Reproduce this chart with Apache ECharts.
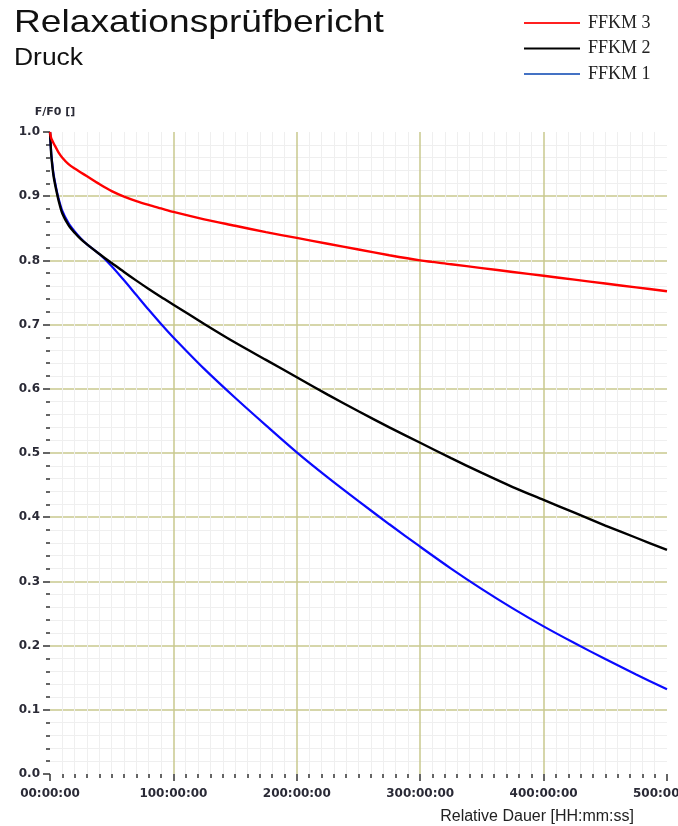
<!DOCTYPE html>
<html>
<head>
<meta charset="utf-8">
<script src="https://cdn.jsdelivr.net/npm/echarts@6/dist/echarts.min.js"></script>
<style>
html,body{margin:0;padding:0;background:#fff;}
#chart{width:678px;height:826px;}
</style>
</head>
<body>
<div id="chart"></div>
<script>
// ---- data ----
var hours = [0, 1, 2, 3, 5, 7, 10, 15, 20, 25, 30, 40, 50, 60, 70, 80, 90, 100, 125, 150, 175, 200, 225, 250, 275, 300, 325, 350, 375, 400, 425, 450, 475, 500];
var ffkm3 = [1.0, 0.99, 0.986, 0.982, 0.975, 0.968, 0.96, 0.95, 0.943, 0.937, 0.931, 0.919, 0.908, 0.8995, 0.8925, 0.8865, 0.881, 0.8755, 0.864, 0.854, 0.844, 0.835, 0.826, 0.817, 0.808, 0.800, 0.794, 0.788, 0.782, 0.776, 0.770, 0.764, 0.758, 0.752];
var ffkm2 = [1.0, 0.965, 0.945, 0.93, 0.91, 0.893, 0.873, 0.855, 0.843, 0.833, 0.825, 0.81, 0.796, 0.782, 0.7685, 0.7555, 0.743, 0.731, 0.701, 0.672, 0.645, 0.618, 0.591, 0.565, 0.540, 0.516, 0.492, 0.469, 0.447, 0.427, 0.407, 0.387, 0.368, 0.349];
var ffkm1 = [1.0, 0.967, 0.948, 0.933, 0.913, 0.896, 0.877, 0.858, 0.845, 0.834, 0.825, 0.81, 0.791, 0.769, 0.746, 0.723, 0.701, 0.680, 0.631, 0.586, 0.543, 0.501, 0.462, 0.425, 0.389, 0.354, 0.320, 0.288, 0.258, 0.230, 0.204, 0.179, 0.155, 0.132];
var seriesNames = ['FFKM 3', 'FFKM 2', 'FFKM 1'];
var titleText = 'Relaxationsprüfbericht';
var subtitleText = 'Druck';
var yAxisName = 'F/F0 []';
var xAxisName = 'Relative Dauer [HH:mm:ss]';

function pairs(vals){ return hours.map(function(h,i){ return [h, vals[i]]; }); }
function fmtHours(v){ var s = String(v); if (s.length < 2) s = '0' + s; return s + ':00:00'; }

var labelFont = {fontFamily:'DejaVu Sans', fontWeight:'bold', fontSize:12, color:'#2a2a36'};

var chart = echarts.init(document.getElementById('chart'), null, {renderer:'canvas'});
chart.setOption({
  animation:false,
  backgroundColor:'#ffffff',
  graphic:[
    {type:'text', x:14, y:23, scaleX:1.18, style:{text:titleText, font:'31.5px "Liberation Sans"', fill:'#111', verticalAlign:'middle'}},
    {type:'text', x:14, y:59, scaleX:1.15, style:{text:subtitleText, font:'23px "Liberation Sans"', fill:'#111', verticalAlign:'middle'}}
  ],
  legend:{
    orient:'vertical', left:519, top:9,
    icon:'rect', itemWidth:56, itemHeight:2, itemGap:7.5,
    textStyle:{fontFamily:'Liberation Serif', fontSize:18, color:'#222', lineHeight:18, padding:[0,0,0,3]},
    data:[
      {name:seriesNames[0], itemStyle:{color:'#ff2020'}},
      {name:seriesNames[1], itemStyle:{color:'#000000'}},
      {name:seriesNames[2], itemStyle:{color:'#4472c4'}}
    ]
  },
  grid:{left:50, right:11, top:132, bottom:52, containLabel:false, outerBoundsMode:'none'},
  xAxis:{
    type:'value', min:0, max:500, interval:100,
    name:xAxisName, nameLocation:'end', nameGap:-33,
    nameTextStyle:{fontFamily:'Liberation Sans', fontSize:16, color:'#222', align:'right', verticalAlign:'top', padding:[35,0,0,0]},
    axisLine:{show:false},
    axisTick:{show:true, length:7, lineStyle:{color:'#333', width:1.5}},
    minorTick:{show:true, splitNumber:10, length:4, lineStyle:{color:'#333', width:1.5}},
    axisLabel:Object.assign({margin:14, formatter:fmtHours, showMaxLabel:true, hideOverlap:false, alignMaxLabel:'center'}, labelFont),
    splitLine:{show:true, showMinLine:false, showMaxLine:false, lineStyle:{color:'#c9c98e', width:1.5}},
    minorSplitLine:{show:true, lineStyle:{color:'#efefef', width:1}}
  },
  yAxis:{
    type:'value', min:0, max:1, interval:0.1,
    name:yAxisName, nameLocation:'end', nameGap:14,
    nameTextStyle:{fontFamily:'DejaVu Sans', fontWeight:'bold', fontSize:11, color:'#2a2a36', padding:[0,0,0,10]},
    axisLine:{show:false},
    axisTick:{show:true, length:7, lineStyle:{color:'#333', width:1.5}},
    minorTick:{show:true, splitNumber:5, length:4, lineStyle:{color:'#333', width:1.5}},
    axisLabel:Object.assign({margin:10, formatter:function(v){return v.toFixed(1);}}, labelFont),
    splitLine:{show:true, showMinLine:false, showMaxLine:false, lineStyle:{color:'#c9c98e', width:1.5}},
    minorSplitLine:{show:true, lineStyle:{color:'#efefef', width:1}}
  },
  series:[
    {name:seriesNames[2], type:'line', data:pairs(ffkm1), showSymbol:false, smooth:0.3, lineStyle:{color:'#0a0aff', width:2.2}, itemStyle:{color:'#0a0aff'}, z:2},
    {name:seriesNames[1], type:'line', data:pairs(ffkm2), showSymbol:false, smooth:0.3, lineStyle:{color:'#000000', width:2.4}, itemStyle:{color:'#000'}, z:3},
    {name:seriesNames[0], type:'line', data:pairs(ffkm3), showSymbol:false, smooth:0.3, lineStyle:{color:'#ff0000', width:2.4}, itemStyle:{color:'#ff0000'}, z:4}
  ]
});
</script>
</body>
</html>
